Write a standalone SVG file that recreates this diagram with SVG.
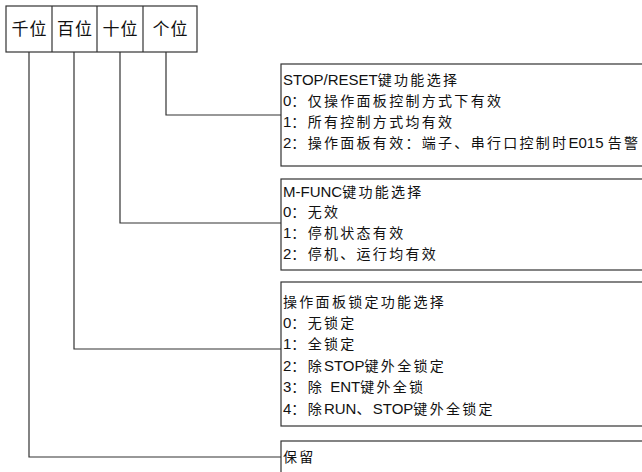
<svg xmlns="http://www.w3.org/2000/svg" width="642" height="472" viewBox="0 0 642 472">
<style>
.bg{fill:#fff}
.box{fill:#fff;stroke:#333;stroke-width:1.2}
.ln{fill:none;stroke:#333;stroke-width:1.2}
.hd{font-family:"Noto Sans CJK SC","Liberation Sans",sans-serif;font-size:17px;fill:#111;text-anchor:middle;letter-spacing:1px}
.t{font-family:"Liberation Sans","Noto Sans CJK SC",sans-serif;font-size:14px;fill:#111;letter-spacing:2.3px}
.l{letter-spacing:0;font-size:15px}
</style>
<rect class="bg" x="0" y="0" width="642" height="472"/>
<g id="digits">
<rect class="box" x="6" y="6" width="191" height="46"/>
<line class="ln" x1="52" y1="6" x2="52" y2="52"/>
<line class="ln" x1="97" y1="6" x2="97" y2="52"/>
<line class="ln" x1="143" y1="6" x2="143" y2="52"/>
<text class="hd" x="29.5" y="35">千位</text>
<text class="hd" x="75" y="35">百位</text>
<text class="hd" x="120.5" y="35">十位</text>
<text class="hd" x="170.5" y="35">个位</text>
</g>
<g id="connectors">
<polyline class="ln" points="166,52 166,115 281,115"/>
<polyline class="ln" points="120,52 120,223 281,223"/>
<polyline class="ln" points="74,52 74,349 281,349"/>
<polyline class="ln" points="29,52 29,457 281,457"/>
</g>
<g id="stop-reset">
<rect class="box" x="281" y="64" width="380" height="102"/>
<text class="t" x="283" y="85"><tspan class="l">STOP/RESET</tspan>键功能选择</text>
<text class="t" x="283" y="106"><tspan class="l">0</tspan>：仅操作面板控制方式下有效</text>
<text class="t" x="283" y="127"><tspan class="l">1</tspan>：所有控制方式均有效</text>
<text class="t" x="283" y="148"><tspan class="l">2</tspan>：操作面板有效：端子、串行口控制时<tspan class="l">E015 </tspan>告警</text>
</g>
<g id="m-func">
<rect class="box" x="281" y="179" width="380" height="91"/>
<text class="t" x="283" y="197"><tspan class="l">M-FUNC</tspan>键功能选择</text>
<text class="t" x="283" y="217"><tspan class="l">0</tspan>：无效</text>
<text class="t" x="283" y="238"><tspan class="l">1</tspan>：停机状态有效</text>
<text class="t" x="283" y="259"><tspan class="l">2</tspan>：停机、运行均有效</text>
</g>
<g id="panel-lock">
<rect class="box" x="281" y="282" width="380" height="144"/>
<text class="t" x="283" y="307">操作面板锁定功能选择</text>
<text class="t" x="283" y="328"><tspan class="l">0</tspan>：无锁定</text>
<text class="t" x="283" y="349"><tspan class="l">1</tspan>：全锁定</text>
<text class="t" x="283" y="371"><tspan class="l">2</tspan>：除<tspan class="l">STOP</tspan>键外全锁定</text>
<text class="t" x="283" y="392"><tspan class="l">3</tspan>：除 <tspan class="l">ENT</tspan>键外全锁</text>
<text class="t" x="283" y="414"><tspan class="l">4</tspan>：除<tspan class="l">RUN</tspan>、<tspan class="l">STOP</tspan>键外全锁定</text>
</g>
<g id="reserved">
<rect class="box" x="281" y="441" width="380" height="50"/>
<text class="t" x="283" y="462">保留</text>
</g>
</svg>
